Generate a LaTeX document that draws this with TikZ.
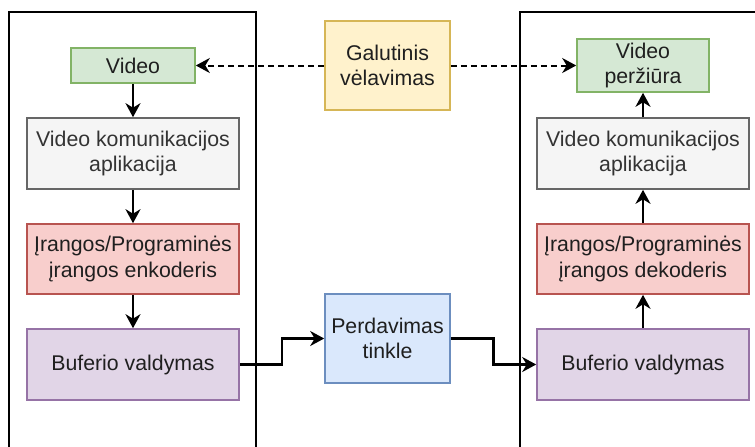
\documentclass[tikz,border=0pt]{standalone}
\usepackage{fontspec}
\setmainfont{Liberation Sans}
\usetikzlibrary{arrows.meta,calc}
\definecolor{grnF}{HTML}{D5E8D4}\definecolor{grnD}{HTML}{82B366}
\definecolor{gryF}{HTML}{F5F5F5}\definecolor{gryD}{HTML}{666666}\definecolor{gryT}{HTML}{333333}
\definecolor{redF}{HTML}{F8CECC}\definecolor{redD}{HTML}{B85450}
\definecolor{purF}{HTML}{E1D5E7}\definecolor{purD}{HTML}{9673A6}
\definecolor{bluF}{HTML}{DAE8FC}\definecolor{bluD}{HTML}{6C8EBF}
\definecolor{ylwF}{HTML}{FFF2CC}\definecolor{ylwD}{HTML}{D6B656}
\tikzset{
  box/.style={draw, line width=1.6pt, inner sep=0pt, align=center,
    font=\fontsize{21.3}{25.5}\selectfont, text=black!88},
  green box/.style={box, fill=grnF, draw=grnD},
  gray box/.style={box, fill=gryF, draw=gryD, text=gryT},
  red box/.style={box, fill=redF, draw=redD},
  purple box/.style={box, fill=purF, draw=purD},
  blue box/.style={box, fill=bluF, draw=bluD},
  yellow box/.style={box, fill=ylwF, draw=ylwD},
  flow/.style={line width=2.2pt, -{Stealth[length=14pt,width=15pt,inset=4.5pt]}},
  delay/.style={flow, line width=2pt, dash pattern=on 6pt off 4pt},
  frame/.style={line width=2.2pt}
}
\begin{document}
\begin{tikzpicture}[x=1pt,y=-1pt]
  \useasboundingbox (0,0) rectangle (755,447);
  \fill[white] (0,0) rectangle (755,447);
  \begin{scope}
    \clip (0,0) rectangle (755,447);
    % sender and receiver frames
    \draw[frame] (9,12) rectangle (256,470);
    \draw[frame] (520,12) rectangle (780,470);
  \end{scope}

  % sender side
  \node[green box, minimum width=124pt, minimum height=35pt] (sv) at (133,65.5) {Video};
  \node[gray box, minimum width=212pt, minimum height=71pt] (sa) at (133,153.5) {Video komunikacijos\\aplikacija};
  \node[red box, minimum width=212pt, minimum height=70pt] (se) at (133,259) {Įrangos/Programinės\\įrangos enkoderis};
  \node[purple box, minimum width=212pt, minimum height=71pt] (sb) at (133,364.5) {Buferio valdymas};

  % receiver side
  \node[green box, minimum width=132pt, minimum height=53pt] (rv) at (643,65.5) {Video\\peržiūra};
  \node[gray box, minimum width=212pt, minimum height=71pt] (ra) at (643,153.5) {Video komunikacijos\\aplikacija};
  \node[red box, minimum width=212pt, minimum height=70pt] (rd) at (643,259) {Įrangos/Programinės\\įrangos dekoderis};
  \node[purple box, minimum width=212pt, minimum height=71pt] (rb) at (643,364.5) {Buferio valdymas};

  % middle
  \node[yellow box, minimum width=125pt, minimum height=89pt] (gd) at (387.5,65.5) {Galutinis\\vėlavimas};
  \node[blue box, minimum width=125pt, minimum height=89pt] (nt) at (387.5,338.5) {Perdavimas\\tinkle};

  % vertical flows
  \draw[flow] (sv) -- (sa);
  \draw[flow] (sa) -- (se);
  \draw[flow] (se) -- (sb);
  \draw[flow] (rb) -- (rd);
  \draw[flow] (rd) -- (ra);
  \draw[flow] (ra) -- (rv);

  % network path
  \draw[flow] (sb.east) -| ($(sb.east)!.5!(nt.west)$) |- (nt.west);
  \draw[flow] (nt.east) -| ($(nt.east)!.5!(rb.west)$) |- (rb.west);

  % end-to-end delay
  \draw[delay] (gd.west) -- (sv.east);
  \draw[delay] (gd.east) -- (rv.west);
\end{tikzpicture}
\end{document}
